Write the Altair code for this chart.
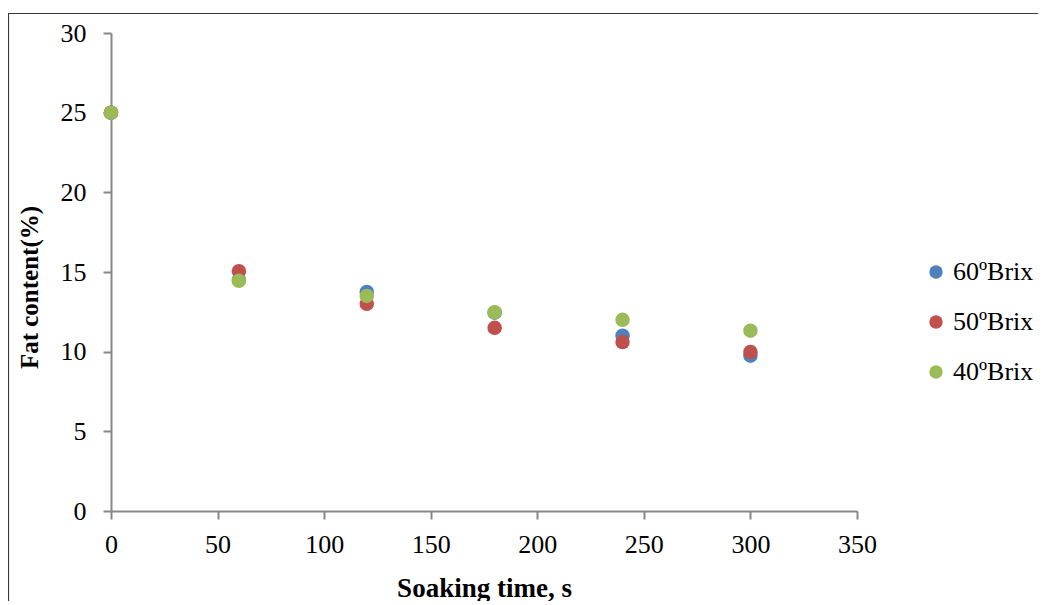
import altair as alt
import pandas as pd

times = [0, 60, 120, 180, 240, 300]
fat_60 = [25.0, 14.5, 13.75, 12.45, 11.0, 9.75]
fat_50 = [25.0, 15.05, 13.0, 11.5, 10.6, 9.98]
fat_40 = [25.0, 14.45, 13.5, 12.47, 12.0, 11.32]
series = ["60ºBrix", "50ºBrix", "40ºBrix"]
colors = ["#4F81BD", "#C0504D", "#9BBB59"]

rows = []
for k, (name, vals) in enumerate(zip(series, [fat_60, fat_50, fat_40])):
    for t, v in zip(times, vals):
        rows.append({"time": t, "fat": v, "series": name, "order": k})
df = pd.DataFrame(rows)

FONT = "Liberation Serif"
W, H = 746, 478

points = alt.Chart(df).mark_circle(size=210, opacity=1).encode(
    x=alt.X("time:Q",
            scale=alt.Scale(domain=[0, 350], nice=False, zero=False),
            axis=alt.Axis(values=[0, 50, 100, 150, 200, 250, 300, 350],
                          title="Soaking time, s", titleX=373, titleY=85,
                          titleFontSize=27,
                          titleBaseline="alphabetic", titleAnchor="middle",
                          titleAlign="center", labelFlush=False)),
    y=alt.Y("fat:Q",
            scale=alt.Scale(domain=[0, 30], nice=False, zero=False),
            axis=alt.Axis(values=[0, 5, 10, 15, 20, 25, 30],
                          title="Fat content(%)", titleX=-74, titleY=254,
                          titleAngle=-90, titleBaseline="alphabetic",
                          titleAlign="center", labelFlush=False)),
    color=alt.Color("series:N", sort=series,
                    scale=alt.Scale(domain=series, range=colors),
                    legend=alt.Legend(title=None, orient="none",
                                      legendX=812, legendY=226,
                                      symbolType="circle", symbolSize=180,
                                      symbolStrokeWidth=0, symbolOpacity=1,
                                      labelFont=FONT, labelFontSize=26,
                                      labelColor="black", labelOffset=4,
                                      rowPadding=24)),
    order=alt.Order("order:Q"),
)

border = alt.Chart(pd.DataFrame({"a": [0]})).mark_rect(
    filled=False, stroke="#3a3a3a", strokeWidth=1.2
).encode(
    x=alt.value(-102.5), x2=alt.value(1200),
    y=alt.value(-19.5), y2=alt.value(900),
)

chart = alt.layer(border, points).properties(
    width=W, height=H,
    autosize=alt.AutoSizeParams(type="none"),
    padding={"left": 103, "top": 25, "right": 181, "bottom": 90},
).configure_view(stroke=None).configure_axis(
    grid=False,
    domainColor="#878787", domainWidth=2,
    tickColor="#878787", tickWidth=2, tickSize=8,
    labelFont=FONT, labelFontSize=26, labelColor="black",
    titleFont=FONT, titleFontSize=25, titleFontWeight="bold", titleColor="black",
).configure_axisX(labelPadding=12).configure_axisY(labelPadding=17)

chart.save("out.html", embed_options={"renderer": "svg", "actions": False})
